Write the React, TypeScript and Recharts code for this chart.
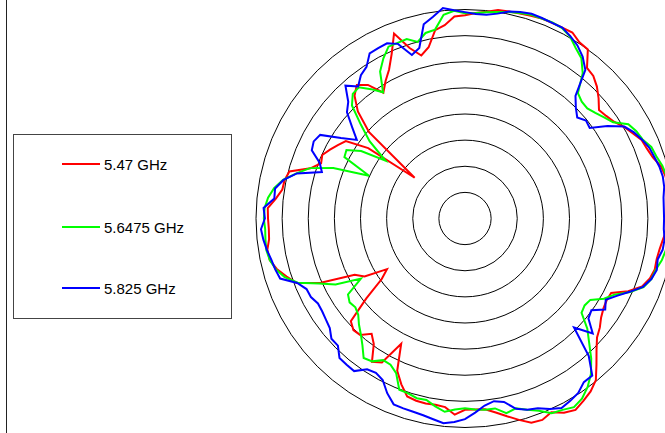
import { RadarChart, Radar, PolarGrid, PolarAngleAxis, PolarRadiusAxis } from 'recharts';

// measurement angle, degrees clockwise from the top
const ANGLES = [
  0, 3, 6, 9, 12, 15, 18, 21, 24, 27,
  30, 33, 36, 39, 42, 45, 48, 51, 54, 57,
  60, 63, 66, 69, 72, 75, 78, 81, 84, 87,
  90, 93, 96, 99, 102, 105, 108, 111, 114, 117,
  120, 123, 126, 129, 132, 135, 138, 141, 144, 147,
  150, 153, 156, 159, 162, 165, 168, 171, 174, 177,
  180, 183, 186, 189, 192, 195, 198, 201, 204, 207,
  210, 213, 216, 219, 222, 225, 228, 231, 234, 237,
  240, 243, 246, 249, 252, 255, 258, 261, 264, 267,
  270, 273, 276, 279, 282, 285, 288, 291, 294, 297,
  300, 303, 306, 309, 312, 315, 318, 321, 324, 327,
  330, 333, 336, 339, 342, 345, 348, 351, 354, 357,
];

// normalised gain in dB
const GAIN_547 = [
  -1.1, -0.6, -0.2, 0.4, 0.5, 0.6, 0.8, 1.0, 1.0, 1.0,
  1.1, 0.2, 0.0, -2.9, -3.3, -4.3, -5.6, -7.0, -6.6, -6.0,
  -4.9, -4.0, -3.0, -2.7, -2.2, -1.2, -0.8, -0.6, -0.4, -0.6,
  -1.0, -1.3, -1.9, -2.3, -2.5, -2.4, -2.8, -3.7, -5.8, -8.6,
  -8.7, -8.4, -7.8, -6.8, -6.0, -4.4, -2.4, -0.2, 0.9, 1.6,
  2.3, 1.7, 0.6, 1.3, 1.1, -0.1, -1.3, -2.4, -3.3, -3.4,
  -3.4, -2.4, -3.7, -3.9, -3.8, -3.9, -4.2, -6.0, -8.1, -13.1,
  -8.2, -7.3, -10.3, -11.6, -10.0, -9.8, -10.6, -15.7, -20.3, -22.2,
  -17.8, -16.3, -9.8, -5.5, -4.1, -2.7, -1.8, -1.7, -2.3, -2.4,
  -2.3, -2.2, -3.6, -4.6, -4.7, -5.2, -8.9, -10.5, -10.1, -11.0,
  -11.9, -12.8, -17.1, -27.6, -15.3, -11.0, -8.4, -7.1, -8.4, -11.3,
  -9.6, -8.0, -5.5, -2.1, -5.7, -7.7, -6.5, -3.5, -2.8, -1.3,
];

const GAIN_56475 = [
  -0.7, -0.6, -0.3, 0.0, 0.4, 0.7, 1.0, 1.0, 1.1, 0.9,
  0.2, -1.1, -2.1, -4.2, -7.7, -8.4, -8.5, -7.9, -7.1, -6.2,
  -3.9, -3.2, -2.8, -1.8, -1.5, -0.9, -0.6, -0.5, -0.4, -0.5,
  -0.6, -0.8, -1.0, -1.1, -1.5, -2.2, -2.5, -3.4, -5.4, -7.9,
  -9.3, -11.4, -11.7, -11.3, -8.5, -6.4, -3.9, -1.7, -0.1, 1.1,
  1.7, 1.1, 0.8, -0.6, -1.5, -2.4, -1.9, -3.2, -3.2, -3.4,
  -3.7, -3.4, -2.8, -3.6, -4.5, -4.4, -4.8, -4.9, -7.6, -8.6,
  -8.7, -7.4, -7.0, -8.8, -10.2, -11.3, -12.5, -13.0, -12.7, -13.3,
  -17.0, -12.2, -9.4, -5.7, -3.7, -2.5, -1.8, -1.5, -1.6, -1.7,
  -1.5, -1.6, -2.1, -3.0, -4.4, -6.6, -8.8, -13.0, -19.9, -14.1,
  -13.8, -16.3, -21.2, -16.5, -13.2, -9.4, -7.9, -7.7, -9.4, -11.2,
  -7.5, -5.6, -4.0, -4.0, -3.9, -5.0, -3.7, -3.4, -0.8, -0.2,
];

const GAIN_5825 = [
  -0.5, -0.8, -0.8, -0.3, 0.5, 0.9, 1.2, 1.1, 1.0, 1.0,
  0.3, -0.5, -1.7, -3.4, -8.4, -10.0, -11.1, -10.2, -10.5, -7.5,
  -4.8, -3.7, -2.9, -2.2, -1.9, -1.5, -1.3, -1.4, -1.8, -1.9,
  -1.9, -1.9, -1.6, -1.7, -2.3, -2.0, -2.5, -3.5, -5.5, -7.4,
  -8.9, -8.0, -10.1, -9.6, -7.1, -10.5, -4.6, -1.3, -1.3, -0.2,
  0.3, 0.7, -0.1, -1.1, -1.5, -2.3, -4.1, -4.6, -4.0, -2.8,
  -1.6, -1.0, -0.6, -1.1, -1.5, -1.7, -1.8, -1.9, -3.4, -5.3,
  -5.9, -5.6, -3.9, -4.0, -4.1, -5.6, -5.6, -6.7, -7.1, -7.4,
  -7.5, -6.9, -6.8, -5.6, -2.8, -2.4, -2.1, -1.6, -1.2, -0.9,
  -1.7, -1.4, -3.3, -3.2, -4.5, -6.7, -11.2, -10.2, -7.9, -7.5,
  -8.0, -11.7, -14.4, -12.2, -9.6, -8.4, -5.8, -7.5, -6.1, -5.4,
  -3.5, -3.4, -3.3, -4.2, -7.1, -6.2, -2.0, -0.9, 0.5, -0.1,
];

const RING_TICKS = [-40, -35, -30, -25, -20, -15, -10, -5, 0];

const SERIES = [
  { key: 'f547', name: '5.47 GHz', color: '#ff0000' },
  { key: 'f56475', name: '5.6475 GHz', color: '#00ff00' },
  { key: 'f5825', name: '5.825 GHz', color: '#0000ff' },
];

const data = ANGLES.map((angle, i) => ({
  angle,
  f547: GAIN_547[i],
  f56475: GAIN_56475[i],
  f5825: GAIN_5825[i],
}));

function LegendBox() {
  const rowY = [30, 93, 154];
  return (
    <svg
      width={219}
      height={185}
      style={{ position: 'absolute', left: 13, top: 134 }}
    >
      <rect x={0.5} y={0.5} width={218} height={184} fill="#fff" stroke="#444" strokeWidth={1} />
      {SERIES.map((s, i) => (
        <g key={s.key}>
          <line x1={49} x2={87} y1={rowY[i]} y2={rowY[i]} stroke={s.color} strokeWidth={2} />
          <text
            x={91}
            y={rowY[i]}
            dominantBaseline="central"
            fontSize={15}
            fontFamily="'Liberation Sans', Arial, sans-serif"
            fill="#000"
          >
            {s.name}
          </text>
        </g>
      ))}
    </svg>
  );
}

export default function App() {
  return (
    <div
      style={{
        position: 'absolute',
        left: 0,
        top: 0,
        width: 665,
        height: 433,
        overflow: 'hidden',
        background: '#fff',
      }}
    >
      <div style={{ position: 'absolute', left: 6, top: 0, width: 1, height: 433, background: '#222' }} />
      <RadarChart
        width={665}
        height={433}
        data={data}
        cx={465}
        cy={218.5}
        outerRadius={209}
        startAngle={90}
        endAngle={-270}
        margin={{ top: 0, right: 0, bottom: 0, left: 0 }}
      >
        <PolarGrid gridType="circle" radialLines={false} stroke="#000" strokeWidth={1} />
        <PolarAngleAxis dataKey="angle" tick={false} axisLine={false} tickLine={false} />
        <PolarRadiusAxis
          type="number"
          domain={[-40, 0]}
          ticks={RING_TICKS}
          allowDataOverflow
          tick={false}
          axisLine={false}
        />
        {SERIES.map((s) => (
          <Radar
            key={s.key}
            dataKey={s.key}
            name={s.name}
            stroke={s.color}
            strokeWidth={2}
            fill="none"
            fillOpacity={0}
            dot={false}
            isAnimationActive={false}
          />
        ))}
      </RadarChart>
      <LegendBox />
    </div>
  );
}
